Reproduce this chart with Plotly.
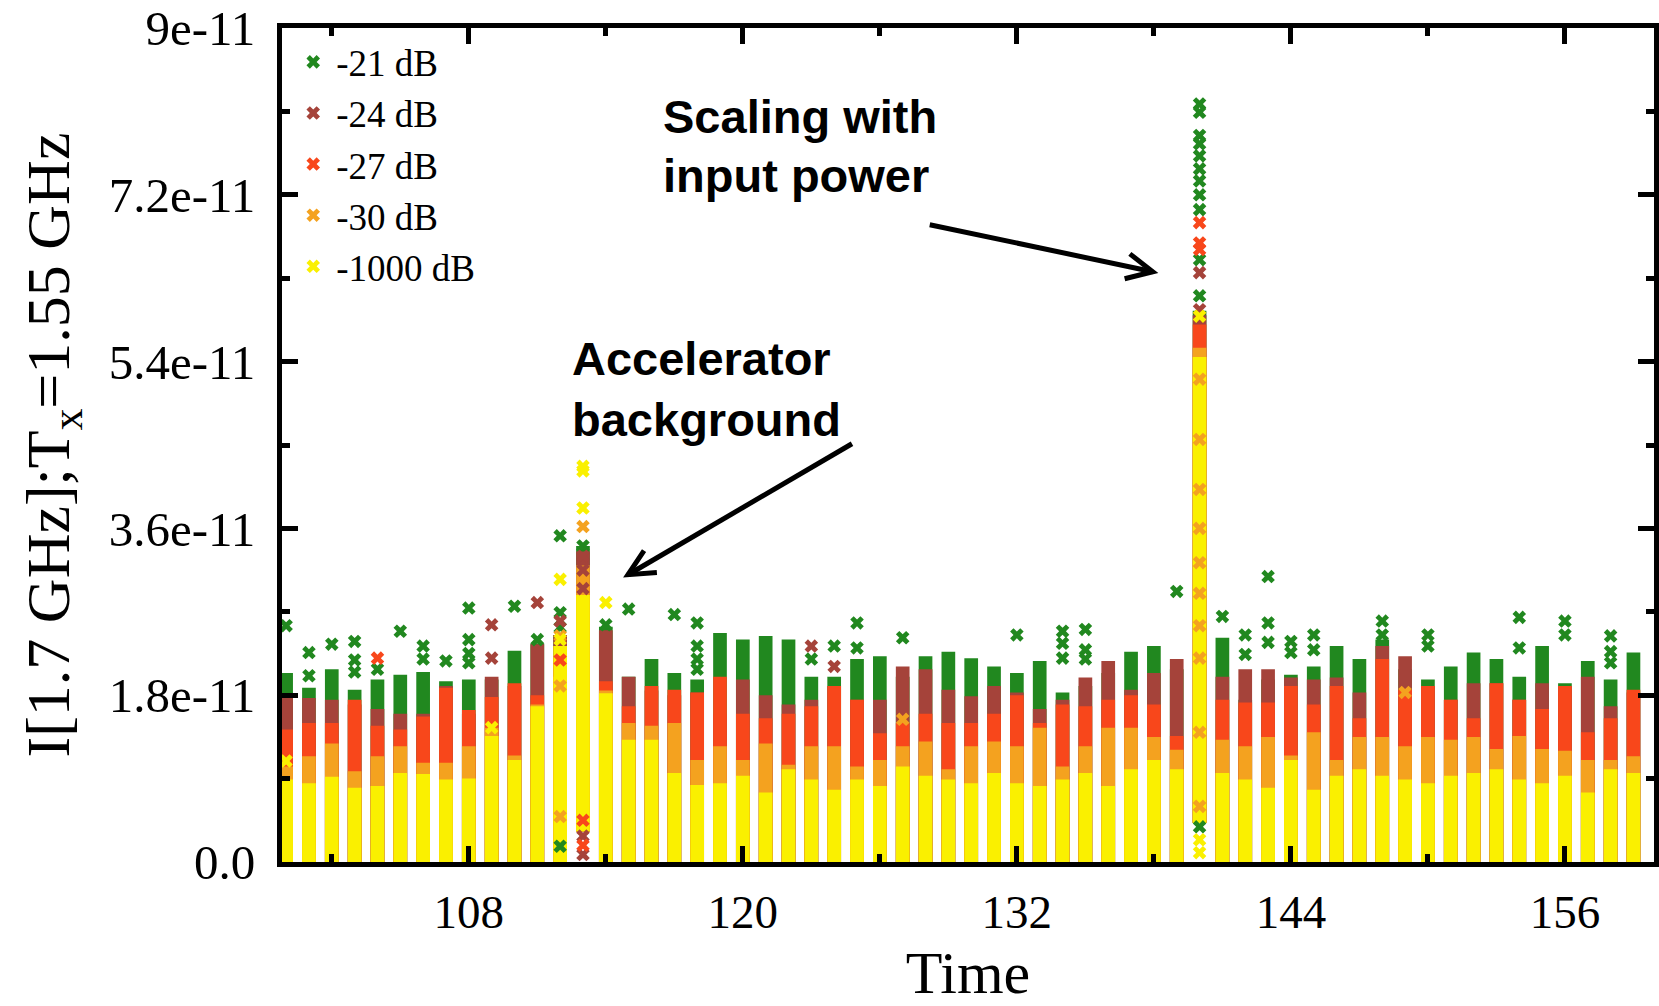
import math
import plotly.graph_objects as go

# ---------------- data (values in units of 1e-11) ----------------
times = list(range(100, 160))

# bottom of each column body (mostly 0; two columns start higher)
body_base = [0, 0, 0, 0, 0, 0, 0, 0, 0, 0,
             0, 0, 0, 0.33, 0, 0, 0, 0, 0, 0,
             0, 0, 0, 0, 0, 0, 0, 0, 0, 0,
             0, 0, 0, 0, 0, 0, 0, 0, 0, 0,
             0.42, 0, 0, 0, 0, 0, 0, 0, 0, 0,
             0, 0, 0, 0, 0, 0, 0, 0, 0, 0]

# top of dense body per series
green_top = [2.04, 1.88, 2.08, 1.86, 1.97, 2.02, 2.05, 1.95, 1.97, 1.97,
             2.28, 2.36, 2.45, 3.41, 2.54, 2.00, 2.19, 2.04, 1.97, 2.47,
             2.40, 2.44, 2.40, 2.00, 2.00, 2.19, 2.22, 2.00, 2.22, 2.27,
             2.20, 2.11, 2.04, 2.17, 1.83, 1.90, 2.04, 2.27, 2.33, 2.08,
             5.95, 2.42, 1.75, 1.97, 2.02, 2.11, 2.33, 2.19, 2.40, 2.08,
             1.97, 2.11, 2.26, 2.19, 2.00, 2.33, 1.93, 2.17, 1.97, 2.26]
brown_top = [1.81, 1.77, 1.75, 1.70, 1.65, 1.60, 1.60, 1.90, 1.60, 2.00,
             1.90, 2.35, 2.45, 3.35, 2.50, 2.00, 1.85, 1.80, 1.83, 1.60,
             1.97, 1.80, 1.70, 1.75, 1.90, 1.75, 1.75, 2.11, 2.08, 1.86,
             1.79, 1.90, 1.83, 1.65, 1.75, 1.99, 2.17, 1.86, 2.04, 2.19,
             5.90, 2.00, 2.08, 2.08, 1.99, 1.97, 1.99, 1.83, 2.33, 2.22,
             1.90, 1.75, 1.93, 1.93, 1.75, 1.93, 1.90, 2.00, 1.68, 1.83]
red_top = [1.43, 1.50, 1.50, 1.75, 1.47, 1.43, 1.57, 1.88, 1.64, 1.78,
           1.93, 1.80, 2.20, 3.00, 1.95, 1.68, 1.90, 1.86, 1.83, 2.00,
           1.60, 1.55, 1.60, 1.68, 1.90, 1.75, 1.39, 1.50, 1.60, 1.50,
           1.50, 1.60, 1.80, 1.50, 1.70, 1.68, 1.75, 1.80, 1.70, 1.36,
           5.80, 1.75, 1.72, 1.72, 1.90, 1.70, 1.90, 1.55, 2.19, 1.86,
           1.90, 1.75, 1.55, 1.93, 1.75, 1.65, 1.90, 1.40, 1.55, 1.86]
orange_top = [1.03, 1.14, 1.28, 0.98, 1.14, 1.25, 1.07, 1.07, 1.25, 1.45,
              1.15, 1.70, 2.00, 3.20, 1.85, 1.50, 1.47, 1.50, 1.10, 1.25,
              1.10, 1.28, 1.05, 1.25, 1.25, 1.03, 1.10, 1.25, 1.30, 1.00,
              1.25, 1.30, 1.25, 1.45, 1.03, 1.25, 1.45, 1.45, 1.35, 1.21,
              5.55, 1.32, 1.25, 1.35, 1.15, 1.40, 1.10, 1.35, 1.35, 1.25,
              1.35, 1.32, 1.35, 1.22, 1.36, 1.22, 1.20, 1.10, 1.10, 1.14]
yellow_top = [0.89, 0.85, 0.92, 0.80, 0.82, 0.96, 0.95, 0.89, 0.90, 1.36,
              1.10, 1.68, 2.33, 2.88, 1.82, 1.32, 1.32, 0.96, 0.83, 0.85,
              0.93, 0.75, 1.00, 0.89, 0.78, 0.89, 0.82, 1.03, 0.93, 0.89,
              0.85, 0.96, 0.85, 0.82, 0.89, 0.96, 0.82, 1.00, 1.10, 1.00,
              5.45, 0.96, 0.89, 0.80, 1.10, 0.78, 0.93, 1.00, 0.93, 0.89,
              0.85, 0.93, 0.96, 1.00, 0.89, 0.85, 0.93, 0.75, 1.00, 0.96]

# individually visible points (time, value)
green_pts_t = [100, 101, 101, 102, 103, 103, 103, 104, 105, 106, 106, 107, 108, 108, 108, 108,
               110, 111, 112, 112, 112, 112, 113, 114, 115, 117, 118, 118, 118, 118,
               123, 124, 125, 125, 127, 132, 134, 134, 134, 135, 135, 135, 139,
               140, 140, 140, 140, 140, 140, 140, 140, 140, 140, 140, 140,
               141, 142, 142, 143, 143, 143, 144, 144, 145, 145, 148, 148, 150, 150,
               154, 154, 156, 156, 158, 158, 158]
green_pts_v = [2.55, 2.26, 2.01, 2.35, 2.38, 2.18, 2.05, 2.08, 2.49, 2.33, 2.19, 2.17, 2.74, 2.40, 2.25, 2.15,
               2.76, 2.40, 3.52, 2.69, 2.53, 0.17, 3.41, 2.56, 2.73, 2.67, 2.58, 2.33, 2.19, 2.08,
               2.19, 2.33, 2.58, 2.31, 2.42, 2.45, 2.49, 2.36, 2.20, 2.51, 2.29, 2.19, 2.92,
               8.18, 8.09, 7.84, 7.75, 7.62, 7.48, 7.35, 7.20, 7.04, 6.50, 6.11, 0.38,
               2.65, 2.45, 2.24, 3.08, 2.58, 2.37, 2.38, 2.26, 2.45, 2.29, 2.60, 2.45, 2.45, 2.33,
               2.64, 2.31, 2.60, 2.45, 2.44, 2.27, 2.15]
brown_pts_t = [109, 109, 111, 112, 113, 113, 113, 113, 113, 123, 124, 140, 140]
brown_pts_v = [2.56, 2.20, 2.80, 2.60, 3.30, 3.15, 2.95, 0.28, 0.08, 2.33, 2.11, 6.36, 5.96]
red_pts_t = [104, 112, 113, 113, 140, 140, 140]
red_pts_v = [2.20, 2.18, 0.45, 0.18, 6.90, 6.68, 6.61]
orange_pts_t = [112, 112, 112, 113, 127, 140, 140, 140, 140, 140, 140, 140, 140, 140, 140, 149]
orange_pts_v = [2.44, 1.90, 0.49, 3.62, 1.54, 5.21, 4.56, 4.02, 3.60, 3.23, 2.90, 2.55, 2.20, 1.40, 0.60, 1.83]
yellow_pts_t = [100, 109, 112, 112, 113, 113, 113, 114, 140, 140, 140]
yellow_pts_v = [1.09, 1.45, 3.05, 2.40, 4.27, 4.22, 3.82, 2.80, 5.89, 0.24, 0.10]

series_names = ["-21 dB", "-24 dB", "-27 dB", "-30 dB", "-1000 dB"]
series_colors = ["#21881f", "#a5433a", "#f8471b", "#f4a21f", "#faf000"]

y_tick_vals = [0, 1.8, 3.6, 5.4, 7.2, 9.0]
y_tick_text = ["0.0", "1.8e-11", "3.6e-11", "5.4e-11", "7.2e-11", "9e-11"]
x_tick_vals = [108, 120, 132, 144, 156]

SCALE = 1e-11

tops = [green_top, brown_top, red_top, orange_top, yellow_top]
pts = [(green_pts_t, green_pts_v), (brown_pts_t, brown_pts_v), (red_pts_t, red_pts_v),
       (orange_pts_t, orange_pts_v), (yellow_pts_t, yellow_pts_v)]

SERIF = "Liberation Serif, Times New Roman, serif"
SANS = "Liberation Sans, Arial, sans-serif"

W, H = 1659, 1006
ML, MR, MT, MB = 282, 5, 28, 144
X_RANGE = [99.82, 159.9]
Y_RANGE = [0, 9 * SCALE]

fig = go.Figure()

# dense column bodies
for name, color, top in zip(series_names, series_colors, tops):
    fig.add_trace(go.Bar(
        x=times,
        y=[(t - b) * SCALE for t, b in zip(top, body_base)],
        base=[b * SCALE for b in body_base],
        width=0.6,
        marker=dict(color=color, line=dict(width=0)),
        showlegend=False, hoverinfo="skip", name=name,
    ))

# individual x markers
for name, color, (pt, pv) in zip(series_names, series_colors, pts):
    fig.add_trace(go.Scatter(
        x=pt, y=[v * SCALE for v in pv], mode="markers", name=name,
        marker=dict(symbol="x", size=12, color=color, line=dict(width=0)),
        cliponaxis=False,
    ))

fig.update_layout(
    width=W, height=H,
    margin=dict(l=ML, r=MR, t=MT, b=MB),
    paper_bgcolor="white", plot_bgcolor="white",
    barmode="overlay",
    showlegend=True,
    legend=dict(x=0.006, y=0.996, xanchor="left", yanchor="top",
                font=dict(family=SERIF, size=37, color="black"),
                bgcolor="rgba(0,0,0,0)", itemsizing="constant", tracegroupgap=0,
                itemwidth=36),
)

fig.update_xaxes(
    range=X_RANGE, tickvals=x_tick_vals, automargin=False,
    ticks="inside", ticklen=16, tickwidth=5, tickcolor="black",
    showline=True, linewidth=5, linecolor="black", mirror="allticks",
    showgrid=False, zeroline=False,
    tickfont=dict(family=SERIF, size=47, color="black"),
    ticklabelstandoff=5,
    minor=dict(tick0=102, dtick=12, ticks="inside", ticklen=8, tickwidth=5, tickcolor="black"),
    title=dict(text="Time", font=dict(family=SERIF, size=60, color="black"), standoff=37),
)
fig.update_yaxes(
    range=Y_RANGE, tickvals=[v * SCALE for v in y_tick_vals], ticktext=y_tick_text,
    automargin=False,
    ticks="inside", ticklen=16, tickwidth=5, tickcolor="black",
    showline=True, linewidth=5, linecolor="black", mirror="allticks",
    showgrid=False, zeroline=False,
    tickfont=dict(family=SERIF, size=49, color="black"),
    ticklabelstandoff=12,
    minor=dict(tick0=0.9 * SCALE, dtick=1.8 * SCALE, ticks="inside", ticklen=8, tickwidth=5, tickcolor="black"),
    title=dict(text="I[1.7 GHz];T<sub>x</sub>=1.55 GHz",
               font=dict(family=SERIF, size=62, color="black"), standoff=21),
)

ann_font = dict(family=SANS, size=47, color="black")
text_lines = [("<b>Scaling with</b>", 116.42, 8.05), ("<b>input power</b>", 116.42, 7.41),
              ("<b>Accelerator</b>", 112.45, 5.43), ("<b>background</b>", 112.45, 4.78)]
for txt, tx, ty in text_lines:
    fig.add_annotation(x=tx, y=ty * SCALE, text=txt, showarrow=False, xanchor="left",
                       yanchor="middle", align="left", font=ann_font)

# arrows (tip in data units, tail offset in px), drawn as open-V line shapes
px_x = (W - ML - MR) / (X_RANGE[1] - X_RANGE[0])
px_y = (H - MT - MB) / (Y_RANGE[1] - Y_RANGE[0])
arrows = [(137.95, 6.37, -223, -47), (114.97, 3.10, 224, -131)]
HEAD_LEN, HEAD_ANG = 29, math.radians(26)
for tx, ty, ax, ay in arrows:
    ty = ty * SCALE
    tail_x, tail_y = tx + ax / px_x, ty - ay / px_y
    fig.add_shape(type="line", xref="x", yref="y", x0=tail_x, y0=tail_y, x1=tx, y1=ty,
                  line=dict(color="black", width=5))
    L = math.hypot(ax, ay)
    ux, uy = ax / L, ay / L
    arms = []
    for s in (1, -1):
        c, si = math.cos(s * HEAD_ANG), math.sin(s * HEAD_ANG)
        dx = (ux * c - uy * si) * HEAD_LEN
        dy = (ux * si + uy * c) * HEAD_LEN
        arms.append((tx + dx / px_x, ty - dy / px_y))
    path = "M {} {} L {} {} L {} {}".format(arms[0][0], arms[0][1], tx, ty, arms[1][0], arms[1][1])
    fig.add_shape(type="path", xref="x", yref="y", path=path,
                  line=dict(color="black", width=5))

fig.write_html("out.html")
